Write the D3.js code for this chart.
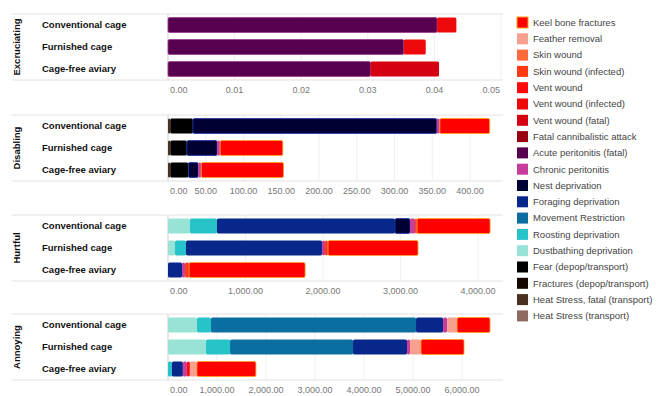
<!DOCTYPE html>
<html>
<head>
<meta charset="utf-8">
<script src="https://cdn.jsdelivr.net/npm/d3@7"></script>
<style>
  body { margin: 0; background: #fff; }
  svg { font-family: Arial, "Liberation Sans", sans-serif; }
</style>
</head>
<body>
<div id="chart"></div>
<script>
// categories (rows) and severity panels
const categories = ["Conventional cage", "Furnished cage", "Cage-free aviary"];
const severities = ["Excruciating", "Disabling", "Hurtful", "Annoying"];

// legend order (top to bottom); bars stack in reverse order
const seriesNames = [
    "Keel bone fractures", "Feather removal", "Skin wound", "Skin wound (infected)",
    "Vent wound", "Vent wound (infected)", "Vent wound (fatal)", "Fatal cannibalistic attack",
    "Acute peritonitis (fatal)", "Chronic peritonitis", "Nest deprivation",
    "Foraging deprivation", "Movement Restriction", "Roosting deprivation",
    "Dustbathing deprivation", "Fear (depop/transport)", "Fractures (depop/transport)",
    "Heat Stress, fatal (transport)", "Heat Stress (transport)"
];
const seriesColors = [
    "#ff0000", "#f8a090", "#ff6a3d", "#ff3a12",
    "#ff0a0a", "#ee0a0a", "#d50012", "#980012",
    "#580050", "#c83c9c", "#000033",
    "#07288a", "#0c6ea0", "#26c3c8",
    "#98e3d6", "#000000", "#150800",
    "#4a3020", "#8e6a60"
];

// values per panel: [series, conventional, furnished, cage-free]
const excruciating = [
    ["Acute peritonitis (fatal)", 0.0404, 0.0354, 0.0304],
    ["Vent wound (fatal)", 0, 0, 0.0103],
    ["Vent wound (infected)", 0.0029, 0.0033, 0]
];
const disabling = [
    ["Heat Stress, fatal (transport)", 3, 3, 3],
    ["Fear (depop/transport)", 30, 22, 24],
    ["Nest deprivation", 323, 40, 13],
    ["Chronic peritonitis", 4, 4, 4],
    ["Keel bone fractures", 66, 83, 109]
];
const hurtful = [
    ["Dustbathing deprivation", 284, 90, 0],
    ["Roosting deprivation", 348, 142, 0],
    ["Foraging deprivation", 2297, 1755, 181],
    ["Nest deprivation", 194, 0, 0],
    ["Chronic peritonitis", 65, 39, 39],
    ["Skin wound (infected)", 26, 39, 52],
    ["Keel bone fractures", 942, 1161, 1497]
];
const annoying = [
    ["Dustbathing deprivation", 592, 776, 0],
    ["Roosting deprivation", 286, 490, 80],
    ["Movement Restriction", 4184, 2510, 0],
    ["Foraging deprivation", 551, 1102, 224],
    ["Chronic peritonitis", 82, 61, 82],
    ["Vent wound", 0, 0, 61],
    ["Feather removal", 204, 224, 143],
    ["Keel bone fractures", 673, 878, 1204]
];

const panelData = [excruciating, disabling, hurtful, annoying];
const panelMax = [0.05, 441, 4297, 6796];
const panelTicks = [
    [0, 0.01, 0.02, 0.03, 0.04, 0.05],
    [0, 50, 100, 150, 200, 250, 300, 350, 400],
    [0, 1000, 2000, 3000, 4000],
    [0, 1000, 2000, 3000, 4000, 5000, 6000]
];
const panelTops = [14, 115, 215, 314];

function drawChart() {
    const width = 656, height = 396;
    const frameLeft = 12, frameRight = 503, panelH = 66;
    const x0 = 168, x1 = 501;

    const color = d3.scaleOrdinal().domain(seriesNames).range(seriesColors);
    const fmt = d3.format(",.2f");
    const stackOrder = seriesNames.slice().reverse();

    let svg = d3.select("#chart")
        .append("svg")
        .attr("width", width)
        .attr("height", height)
        .attr("viewBox", "0 0 " + width + " " + height);

    panelData.forEach(function (rows, p) {
        const top = panelTops[p];
        let g = svg.append("g");

        let x = d3.scaleLinear().domain([0, panelMax[p]]).range([x0, x1]);
        let y = d3.scaleBand().domain(categories)
            .range([top, top + panelH])
            .paddingInner(0.32).paddingOuter(0.16);

        // grid lines
        g.selectAll(".grid")
            .data(panelTicks[p])
            .enter().append("line")
            .attr("x1", d => x(d)).attr("x2", d => x(d))
            .attr("y1", top).attr("y2", top + panelH)
            .attr("stroke", d => d === 0 ? "#cfcfcf" : "#f0f0f0");

        // frame lines
        [top, top + panelH].forEach(function (yy) {
            g.append("line")
                .attr("x1", frameLeft).attr("x2", frameRight)
                .attr("y1", yy).attr("y2", yy)
                .attr("stroke", "#e2e2e2");
        });

        // stacked bars
        const sorted = rows.slice().sort((a, b) => stackOrder.indexOf(a[0]) - stackOrder.indexOf(b[0]));
        const table = categories.map(function (c, i) {
            let o = {category: c};
            sorted.forEach(r => { o[r[0]] = r[i + 1]; });
            return o;
        });
        const stack = d3.stack().keys(sorted.map(r => r[0]))(table);

        g.selectAll(".layer")
            .data(stack)
            .enter().append("g")
            .attr("fill", d => color(d.key))
            .attr("stroke", function (d) {
                if (d.key === "Keel bone fractures") return "#ffa31a";
                if (d.key === "Acute peritonitis (fatal)") return "#9a3a90";
                if (d.key === "Nest deprivation") return "#1838b8";
                return "none";
            })
            .attr("stroke-width", 0.8)
            .selectAll("rect")
            .data(d => d.filter(s => s[1] - s[0] > 0))
            .enter().append("rect")
            .attr("x", d => x(d[0]))
            .attr("y", d => y(d.data.category))
            .attr("width", d => x(d[1]) - x(d[0]))
            .attr("height", y.bandwidth())
            .attr("rx", 1.5);

        // category labels
        g.selectAll(".cat")
            .data(categories)
            .enter().append("text")
            .attr("x", 42)
            .attr("y", d => y(d) + y.bandwidth() / 2)
            .attr("dy", "0.35em")
            .attr("font-size", "9.5px")
            .attr("font-weight", "bold")
            .attr("fill", "#111")
            .text(d => d);

        // facet label
        g.append("text")
            .attr("transform", "translate(20," + (top + panelH / 2) + ") rotate(-90)")
            .attr("text-anchor", "middle")
            .attr("font-size", "9.5px")
            .attr("font-weight", "bold")
            .attr("fill", "#111")
            .text(severities[p]);

        // tick labels
        const ticks = panelTicks[p];
        g.selectAll(".tick")
            .data(ticks)
            .enter().append("text")
            .attr("x", function (d, i) {
                if (i === 0) return x0 + 2;
                if (i === ticks.length - 1 && x(d) > 480) return Math.min(x(d) + 12, 500);
                return x(d);
            })
            .attr("text-anchor", function (d, i) {
                if (i === 0) return "start";
                if (i === ticks.length - 1 && x(d) > 480) return "end";
                return "middle";
            })
            .attr("y", top + panelH + 13)
            .attr("font-size", "9px")
            .attr("fill", "#777")
            .text(d => fmt(d));
    });

    // legend
    let legend = svg.append("g")
        .selectAll("g")
        .data(seriesNames)
        .enter().append("g")
        .attr("transform", (d, i) => "translate(517," + (17 + i * 16.3) + ")");

    legend.append("rect")
        .attr("width", 11).attr("height", 11)
        .attr("fill", d => color(d))
        .attr("stroke", d => d === "Keel bone fractures" ? "#ffa31a" : "none");

    legend.append("text")
        .attr("x", 16).attr("y", 5.5)
        .attr("dy", "0.35em")
        .attr("font-size", "9.5px")
        .attr("fill", "#444")
        .text(d => d);
}
drawChart();
</script>
</body>
</html>
